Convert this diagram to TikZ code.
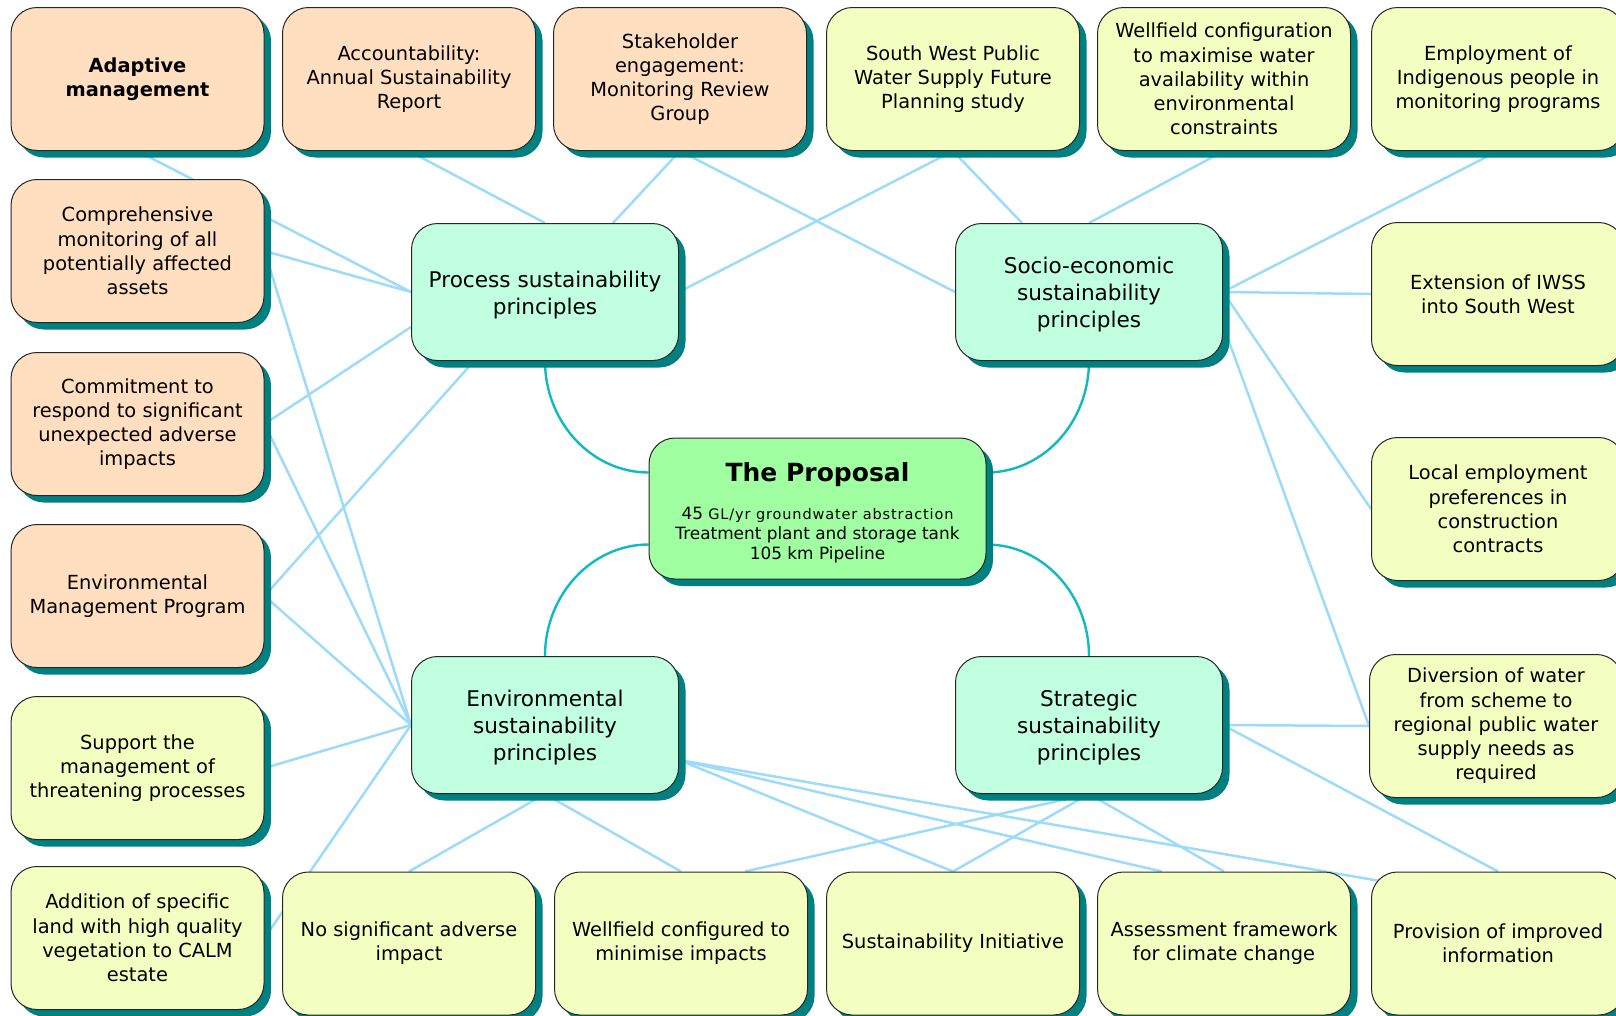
\documentclass[tikz,border=0pt]{standalone}
\usepackage{fontspec}
\setmainfont{DejaVu Sans}
\usetikzlibrary{calc,shadows}

\definecolor{peach}{RGB}{255,223,192}
\definecolor{lemon}{RGB}{243,255,192}
\definecolor{mint}{RGB}{192,255,224}
\definecolor{hubgreen}{RGB}{160,255,160}
\definecolor{shadowteal}{RGB}{0,128,128}
\definecolor{linkblue}{RGB}{158,219,250}
\definecolor{arcteal}{RGB}{16,186,190}

\newcommand\leaffont{\fontsize{19.4}{24.2}\selectfont}
\newcommand\prinfont{\fontsize{21.6}{27.2}\selectfont}
\newcommand\hubsub{\fontsize{16.9}{19.6}\selectfont}
% invisible strut that lowers a text block inside its box
\newcommand\topgap[1]{\rule{0pt}{#1}}

\pgfdeclarelayer{links}
\pgfsetlayers{links,main}

\tikzset{
  nodebox/.style={draw=black!85, line width=1pt, rounded corners=26pt, align=center,
    inner sep=4pt,
    drop shadow={shadow xshift=7pt, shadow yshift=-7pt, fill=shadowteal, opacity=1}},
  leaf/.style={nodebox, minimum width=253pt, minimum height=143pt, font=\leaffont},
  peachleaf/.style={leaf, fill=peach},
  lemonleaf/.style={leaf, fill=lemon},
  principle/.style={nodebox, fill=mint, minimum width=267pt, minimum height=137pt, font=\prinfont},
  hub/.style={nodebox, fill=hubgreen, minimum width=337pt, minimum height=141pt, font=\hubsub},
  link/.style={draw=linkblue, line width=2.5pt},
  hubarc/.style={draw=arcteal, line width=2.4pt},
}

\begin{document}
\begin{tikzpicture}[x=1pt,y=-1pt]
\useasboundingbox (0,0) rectangle (1616,1015);

% hub
\node[hub] (ctr) at (817.5,508.5)
  {\topgap{27pt}{\fontsize{25}{30}\selectfont\bfseries The Proposal}\\[19pt]
   45 {\fontsize{14.5}{19.6}\selectfont\addfontfeature{LetterSpace=6}GL/yr groundwater abstraction}\\
   Treatment plant and storage tank\\
   105 km Pipeline};

% principles
\node[principle] (proc)  at (545,292)  {\topgap{22pt}Process sustainability\\principles};
\node[principle] (soc)   at (1089,292) {\topgap{22pt}Socio-economic\\sustainability\\principles};
\node[principle] (env)   at (545,725)  {\topgap{22pt}Environmental\\sustainability\\principles};
\node[principle] (strat) at (1089,725) {\topgap{22pt}Strategic\\sustainability\\principles};

% top row
\node[peachleaf] (adapt)  at (137.5,79) {\bfseries Adaptive\\\bfseries management};
\node[peachleaf] (acct)   at (409,79)   {Accountability:\\Annual Sustainability\\Report};
\node[peachleaf] (stake)  at (680,79)   {Stakeholder\\engagement:\\Monitoring Review\\Group};
\node[lemonleaf] (swp)    at (953,79)   {South West Public\\Water Supply Future\\Planning study};
\node[lemonleaf] (wcfg)   at (1224,79)  {Wellfield configuration\\to maximise water\\availability within\\environmental\\constraints};
\node[lemonleaf] (employ) at (1498,79)  {Employment of\\Indigenous people in\\monitoring programs};

% left column
\node[peachleaf] (comp)     at (137.5,251) {Comprehensive\\monitoring of all\\potentially affected\\assets};
\node[peachleaf] (commit)   at (137.5,424) {Commitment to\\respond to significant\\unexpected adverse\\impacts};
\node[peachleaf] (emp)      at (137.5,596) {Environmental\\Management Program};
\node[lemonleaf] (support)  at (137.5,768) {Support the\\management of\\threatening processes};
\node[lemonleaf] (addition) at (137.5,938) {Addition of specific\\land with high quality\\vegetation to CALM\\estate};

% bottom row
\node[lemonleaf] (nosig)  at (409,943.5)  {No significant adverse\\impact};
\node[lemonleaf] (wcfd)   at (681,943.5)  {Wellfield configured to\\minimise impacts};
\node[lemonleaf] (sinit)  at (953,943.5)  {Sustainability Initiative};
\node[lemonleaf] (assess) at (1224,943.5) {Assessment framework\\for climate change};
\node[lemonleaf] (prov)   at (1498,943.5) {Provision of improved\\information};

% right column
\node[lemonleaf] (ext)    at (1498,294) {Extension of IWSS\\into South West};
\node[lemonleaf] (local)  at (1498,509) {Local employment\\preferences in\\construction\\contracts};
\node[lemonleaf] (divert) at (1496,726) {Diversion of water\\from scheme to\\regional public water\\supply needs as\\required};

\begin{pgfonlayer}{links}
  % hub to principles
  \draw[hubarc] (proc.south) .. controls ($(proc.south)+(0,61)$) and ($(ctr.west)+(-57,-36)$) .. ($(ctr.west)+(0,-36)$);
  \draw[hubarc] (soc.south)  .. controls ($(soc.south)+(0,61)$)  and ($(ctr.east)+(57,-36)$)  .. ($(ctr.east)+(0,-36)$);
  \draw[hubarc] (env.north)  .. controls ($(env.north)+(0,-61)$) and ($(ctr.west)+(-57,36)$)  .. ($(ctr.west)+(0,36)$);
  \draw[hubarc] (strat.north) .. controls ($(strat.north)+(0,-61)$) and ($(ctr.east)+(57,36)$) .. ($(ctr.east)+(0,36)$);

  % process principles
  \draw[link] (adapt.south) -- (proc.west);
  \draw[link] (comp.east) -- (proc.west);
  \draw[link] (commit.east) -- ($(proc.west)+(0,35)$);
  \draw[link] (emp.east) -- ($(proc.south)+(-71,0)$);
  \draw[link] (acct.south) -- (proc.north);
  \draw[link] (stake.south) -- ($(proc.north)+(68,0)$);
  \draw[link] (swp.south) -- (proc.east);

  % socio-economic principles
  \draw[link] (stake.south) -- (soc.west);
  \draw[link] (swp.south) -- ($(soc.north)+(-67,0)$);
  \draw[link] (wcfg.south) -- (soc.north);
  \draw[link] (employ.south) -- (soc.east);
  \draw[link] (ext.west) -- (soc.east);
  \draw[link] (local.west) -- (soc.east);
  \draw[link] (divert.west) -- ($(soc.east)+(0,33)$);

  % strategic principles
  \draw[link] (divert.west) -- (strat.east);
  \draw[link] (prov.north) -- (strat.east);
  \draw[link] (strat.south) -- ($(wcfd.north)+(64,0)$);
  \draw[link] (strat.south) -- (sinit.north);
  \draw[link] (strat.south) -- (assess.north);

  % environmental principles
  \draw[link] (comp.east) -- (env.west);
  \draw[link] (commit.east) -- (env.west);
  \draw[link] (emp.east) -- (env.west);
  \draw[link] (support.east) -- (env.west);
  \draw[link] (addition.east) -- (env.west);
  \draw[link] (env.south) -- (nosig.north);
  \draw[link] (env.south) -- (wcfd.north);
  \draw[link] ($(env.east)+(0,35)$) -- (sinit.north);
  \draw[link] ($(env.east)+(0,35)$) -- ($(assess.north)+(-62,0)$);
  \draw[link] ($(env.east)+(0,35)$) -- ($(prov.north west)+(12,10)$);
\end{pgfonlayer}

\end{tikzpicture}
\end{document}
